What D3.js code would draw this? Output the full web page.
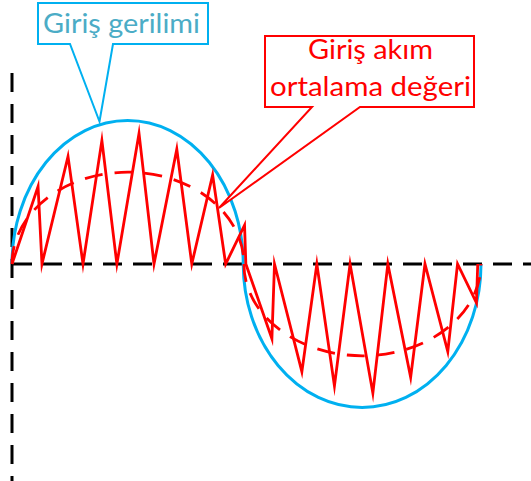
<!DOCTYPE html>
<html>
<head>
<meta charset="utf-8">
<script src="https://cdn.jsdelivr.net/npm/d3@7"></script>
<style>
  html, body { margin: 0; padding: 0; background: #fff; }
  svg { display: block; }
</style>
</head>
<body>
<svg id="chart" width="531" height="481"></svg>
<script>
// Phase angle (degrees) and normalised amplitude of the chopped input current
const currentAngle = [0, 20, 23, 43, 54.5, 69, 80.5, 97.5, 109, 126.5, 138, 154, 164, 178.5, 179.5,
  199.5, 201.5, 222.5, 234, 247.5, 259.5, 277, 288.5, 306, 317, 334.5, 342, 356.5, 357.5];
const currentValue = [0, 0.54, 0, 0.75, 0, 0.86, 0, 0.91, 0, 0.80, 0, 0.62, 0, 0.27, 0,
  -0.52, 0, -0.75, 0, -0.85, 0, -0.90, 0, -0.79, 0, -0.61, 0, -0.27, 0];

// Half cycles of the input voltage: start angle, end angle, peak
const voltageStart = [0, 177.5];
const voltageEnd = [177.5, 360];
const voltagePeak = [1.0, -1.0];

// Half cycles of the average input current
const avgStart = [0, 178];
const avgEnd = [178, 360];
const avgPeak = [0.64, -0.64];

// Callout texts
const voltageLabel = ["Giriş gerilimi"];
const currentLabel = ["Giriş akım", "ortalama değeri"];

const svg = d3.select("#chart");
const x = d3.scaleLinear().domain([0, 360]).range([12, 481]);
const y = d3.scaleLinear().domain([-1, 1]).range([264 + 143.5, 264 - 143.5]);

// dashed axes
svg.append("line")
  .attr("x1", x(0)).attr("x2", x(0))
  .attr("y1", 73).attr("y2", 481)
  .attr("stroke", "#000").attr("stroke-width", 3)
  .attr("stroke-dasharray", "19,12");
svg.append("line")
  .attr("x1", x(0) + 1).attr("x2", 531)
  .attr("y1", y(0)).attr("y2", y(0))
  .attr("stroke", "#000").attr("stroke-width", 3)
  .attr("stroke-dasharray", "19,11");

// half-elliptic arc between two zero crossings
function halfArc(a0, a1, peak) {
  const x0 = x(a0), x1 = x(a1);
  const rx = (x1 - x0) / 2;
  const ry = Math.abs(y(peak) - y(0));
  const sweep = peak > 0 ? 1 : 0;
  return `M${x0},${y(0)} A${rx},${ry} 0 0 ${sweep} ${x1},${y(0)}`;
}

// input voltage
svg.append("g").selectAll("path")
  .data(d3.range(voltageStart.length))
  .join("path")
  .attr("d", i => halfArc(voltageStart[i], voltageEnd[i], voltagePeak[i]))
  .attr("fill", "none")
  .attr("stroke", "#00b0f0")
  .attr("stroke-width", 3);

// average input current
svg.append("g").selectAll("path")
  .data(d3.range(avgStart.length))
  .join("path")
  .attr("d", i => halfArc(avgStart[i], avgEnd[i], avgPeak[i]))
  .attr("fill", "none")
  .attr("stroke", "#ff0000")
  .attr("stroke-width", 2.8)
  .attr("stroke-dasharray", "18,12");

// chopped input current
const line = d3.line()
  .x(i => x(currentAngle[i]))
  .y(i => y(currentValue[i]));
svg.append("path")
  .attr("d", line(d3.range(currentAngle.length)))
  .attr("fill", "none")
  .attr("stroke", "#ff0000")
  .attr("stroke-width", 2.8)
  .attr("stroke-linejoin", "miter")
  .attr("stroke-miterlimit", 10);

// callout: box with a wedge pointing to a spot on the chart
function callout(box, baseL, baseR, tip, stroke) {
  const [l, t, r, b] = box;
  const p = d3.path();
  p.moveTo(l, t);
  p.lineTo(r, t);
  p.lineTo(r, b);
  p.lineTo(baseR, b);
  p.lineTo(tip[0], tip[1]);
  p.lineTo(baseL, b);
  p.lineTo(l, b);
  p.closePath();
  svg.append("path")
    .attr("d", p.toString())
    .attr("fill", "#fff")
    .attr("stroke", stroke)
    .attr("stroke-width", 2)
    .attr("stroke-linejoin", "miter");
}

// voltage callout points to the voltage crest
callout([38, 3, 208, 44], 70, 113, [99.5, y(1) + 1], "#00b0f0");
svg.append("text")
  .attr("x", 121.5).attr("y", 33)
  .attr("text-anchor", "middle")
  .attr("font-family", "Lato, 'Open Sans', sans-serif")
  .attr("font-size", 27)
  .attr("fill", "#4bacc6")
  .attr("textLength", 157)
  .attr("lengthAdjust", "spacingAndGlyphs")
  .text(voltageLabel[0]);

// current callout points to the averaged current curve
callout([265, 36, 474, 107], 312, 360, [219, 208], "#ff0000");
const lineSpec = [{ y: 59, w: 125 }, { y: 96, w: 201 }];
svg.append("g").selectAll("text")
  .data(currentLabel)
  .join("text")
  .attr("x", 370.5)
  .attr("y", (d, i) => lineSpec[i].y)
  .attr("text-anchor", "middle")
  .attr("font-family", "Lato, 'Open Sans', sans-serif")
  .attr("font-size", 27)
  .attr("fill", "#ff0000")
  .attr("textLength", (d, i) => lineSpec[i].w)
  .attr("lengthAdjust", "spacingAndGlyphs")
  .text(d => d);
</script>
</body>
</html>
